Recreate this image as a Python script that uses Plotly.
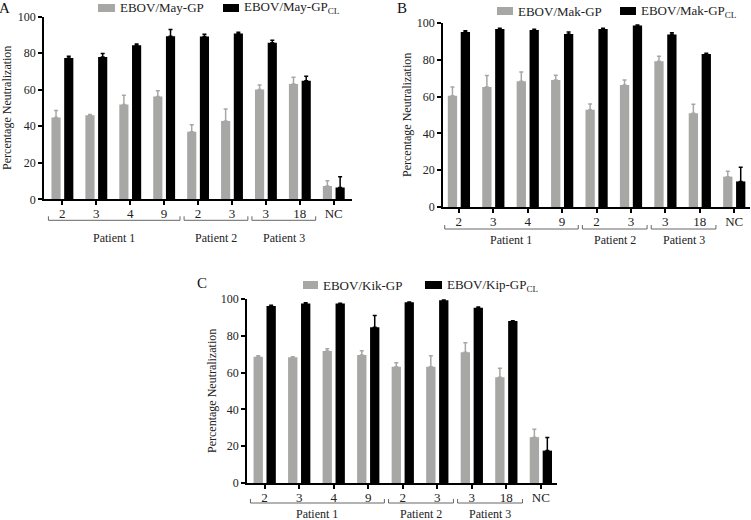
import plotly.graph_objects as go

# ---------------- data ----------------
tick_labels = ["2", "3", "4", "9", "2", "3", "3", "18", "NC"]
patients = ["Patient 1", "Patient 2", "Patient 3"]
patient_start = [0, 4, 6]
patient_end = [3, 5, 7]

a_names = ["EBOV/May-GP", "EBOV/May-GP<sub>CL</sub>"]
a_gp = [44.8, 46.0, 51.9, 56.3, 36.9, 42.8, 60.0, 63.1, 7.3]
a_gp_err = [3.8, 0.4, 5.0, 3.1, 3.9, 6.6, 2.5, 3.6, 2.9]
a_cl = [77.3, 77.9, 84.3, 89.2, 89.0, 90.7, 85.6, 64.9, 6.4]
a_cl_err = [0.9, 1.8, 0.7, 3.7, 1.3, 0.7, 1.4, 2.4, 6.0]

b_names = ["EBOV/Mak-GP", "EBOV/Mak-GP<sub>CL</sub>"]
b_gp = [60.5, 65.2, 68.3, 69.0, 52.9, 66.3, 79.2, 50.9, 16.5]
b_gp_err = [4.7, 6.2, 5.1, 2.6, 3.1, 2.7, 2.7, 4.9, 2.9]
b_cl = [95.1, 96.7, 96.2, 94.0, 96.7, 98.7, 93.8, 83.2, 13.9]
b_cl_err = [0.7, 0.4, 0.4, 1.1, 0.4, 0.2, 0.9, 0.3, 7.7]

c_names = ["EBOV/Kik-GP", "EBOV/Kip-GP<sub>CL</sub>"]
c_gp = [68.6, 68.4, 71.7, 69.5, 63.2, 63.2, 71.0, 57.5, 24.9]
c_gp_err = [0.5, 0.2, 1.3, 2.4, 2.1, 5.9, 5.2, 4.8, 4.3]
c_cl = [96.2, 97.6, 97.5, 84.6, 98.2, 99.3, 95.3, 88.0, 17.6]
c_cl_err = [0.4, 0.4, 0.2, 6.5, 0.2, 0.2, 0.3, 0.2, 7.1]

y_ticks = [0, 20, 40, 60, 80, 100]

# ---------------- layout helpers ----------------
W, H = 751, 520
GRAY = "#a7a7a6"
FONT = "'Liberation Serif', 'Times New Roman', 'DejaVu Serif', serif"


def px(x):
    return x / W


def py(y):
    return 1 - y / H


panels = [
    dict(letter="A", names=a_names, gp=a_gp, gpe=a_gp_err, cl=a_cl, cle=a_cl_err,
         x0=44, x1=352, ytop=16.5, ybot=199.3, rng=[-0.54, 8.54],
         label_xy=(4, 8), ytitle_x=7,
         leg_y=8, leg_g=(98, 115), leg_b=(223, 239),
         br_dy=21, pat_dy=39),
    dict(letter="B", names=b_names, gp=b_gp, gpe=b_gp_err, cl=b_cl, cle=b_cl_err,
         x0=443, x1=750, ytop=23, ybot=207, rng=[-0.46, 8.46],
         label_xy=(402, 8), ytitle_x=407,
         leg_y=11, leg_g=(497, 513), leg_b=(620, 636),
         br_dy=22, pat_dy=33),
    dict(letter="C", names=c_names, gp=c_gp, gpe=c_gp_err, cl=c_cl, cle=c_cl_err,
         x0=247, x1=557, ytop=299, ybot=483, rng=[-0.51, 8.47],
         label_xy=(202, 283), ytitle_x=212,
         leg_y=285, leg_g=(303, 318), leg_b=(425, 442),
         br_dy=20, pat_dy=30.5),
]

fig = go.Figure()
shapes = []
annotations = []
xs = list(range(len(tick_labels)))

for i, p in enumerate(panels):
    n = "" if i == 0 else str(i + 1)
    xa, ya = "x" + n, "y" + n
    fig.add_trace(go.Bar(
        x=xs, y=p["gp"], xaxis=xa, yaxis=ya, name=p["names"][0],
        marker=dict(color=GRAY, line=dict(width=0)), width=0.27, offset=-0.32,
        error_y=dict(type="data", array=p["gpe"], arrayminus=[0] * len(xs),
                     symmetric=False, color=GRAY, thickness=1.5, width=2),
        showlegend=False, hoverinfo="y"))
    fig.add_trace(go.Bar(
        x=xs, y=p["cl"], xaxis=xa, yaxis=ya, name=p["names"][1],
        marker=dict(color="black", line=dict(width=0)), width=0.27, offset=0.055,
        error_y=dict(type="data", array=p["cle"], arrayminus=[0] * len(xs),
                     symmetric=False, color="black", thickness=1.5, width=2),
        showlegend=False, hoverinfo="y"))

    fig.update_layout(**{
        "xaxis" + n: dict(domain=[px(p["x0"]), px(p["x1"])], range=p["rng"],
                          autorange=False, automargin=False,
                          anchor=ya, tickvals=xs, ticktext=tick_labels,
                          showline=True, linecolor="black", linewidth=2,
                          ticks="outside", ticklen=4, tickwidth=2,
                          tickcolor="black", showgrid=False, zeroline=False,
                          ticklabelstandoff=-3,
                          tickfont=dict(family=FONT, size=13, color="#222"),
                          fixedrange=True),
        "yaxis" + n: dict(domain=[py(p["ybot"]), py(p["ytop"])], range=[0, 100],
                          autorange=False, automargin=False,
                          anchor=xa, tickvals=y_ticks, showline=True,
                          linecolor="black", linewidth=1.5, ticks="outside",
                          ticklen=4, tickwidth=1.5, tickcolor="black",
                          showgrid=False, zeroline=False,
                          tickfont=dict(family=FONT, size=12, color="#222"),
                          fixedrange=True),
    })

    # brackets and patient labels
    yb = py(p["ybot"] + p["br_dy"])
    yt = py(p["ybot"] + p["br_dy"] - 4)
    for name, s, e in zip(patients, patient_start, patient_end):
        a0, a1 = s - 0.41, e + 0.47
        shapes.append(dict(type="path", xref=xa, yref="paper",
                           path=f"M{a0},{yt} L{a0},{yb} L{a1},{yb} L{a1},{yt}",
                           line=dict(color="#666", width=1)))
        annotations.append(dict(x=(a0 + a1) / 2, y=py(p["ybot"] + p["pat_dy"]),
                                xref=xa, yref="paper", text=name, showarrow=False,
                                xanchor="center", yanchor="middle",
                                font=dict(family=FONT, size=12, color="#222")))

    # panel letter
    annotations.append(dict(x=px(p["label_xy"][0]), y=py(p["label_xy"][1]),
                            xref="paper", yref="paper", text=p["letter"],
                            showarrow=False, xanchor="center", yanchor="middle",
                            font=dict(family=FONT, size=15, color="#111")))
    # y title
    annotations.append(dict(x=px(p["ytitle_x"]), y=py((p["ytop"] + p["ybot"]) / 2),
                            xref="paper", yref="paper",
                            text="Percentage Neutralization", textangle=-90,
                            showarrow=False, xanchor="center", yanchor="middle",
                            font=dict(family=FONT, size=12, color="#222")))
    # legend (swatches + text)
    for (s0, s1), col, name in [(p["leg_g"], GRAY, p["names"][0]),
                                (p["leg_b"], "black", p["names"][1])]:
        shapes.append(dict(type="rect", xref="paper", yref="paper",
                           x0=px(s0), x1=px(s1),
                           y0=py(p["leg_y"] + 4), y1=py(p["leg_y"] - 4),
                           fillcolor=col, line=dict(width=0)))
        annotations.append(dict(x=px(s1 + 3), y=py(p["leg_y"]), xref="paper",
                                yref="paper", text=name, showarrow=False,
                                xanchor="left", yanchor="middle",
                                font=dict(family=FONT, size=13, color="#222")))

fig.update_layout(
    width=W, height=H, margin=dict(l=0, r=0, t=0, b=0, pad=0, autoexpand=False),
    paper_bgcolor="white", plot_bgcolor="white", showlegend=False,
    barmode="overlay", shapes=shapes, annotations=annotations,
    font=dict(family=FONT),
)

fig.write_html("out.html",
               config={"displayModeBar": False},
               post_script="document.body.style.margin='0';"
                           "document.body.style.overflow='hidden';")
